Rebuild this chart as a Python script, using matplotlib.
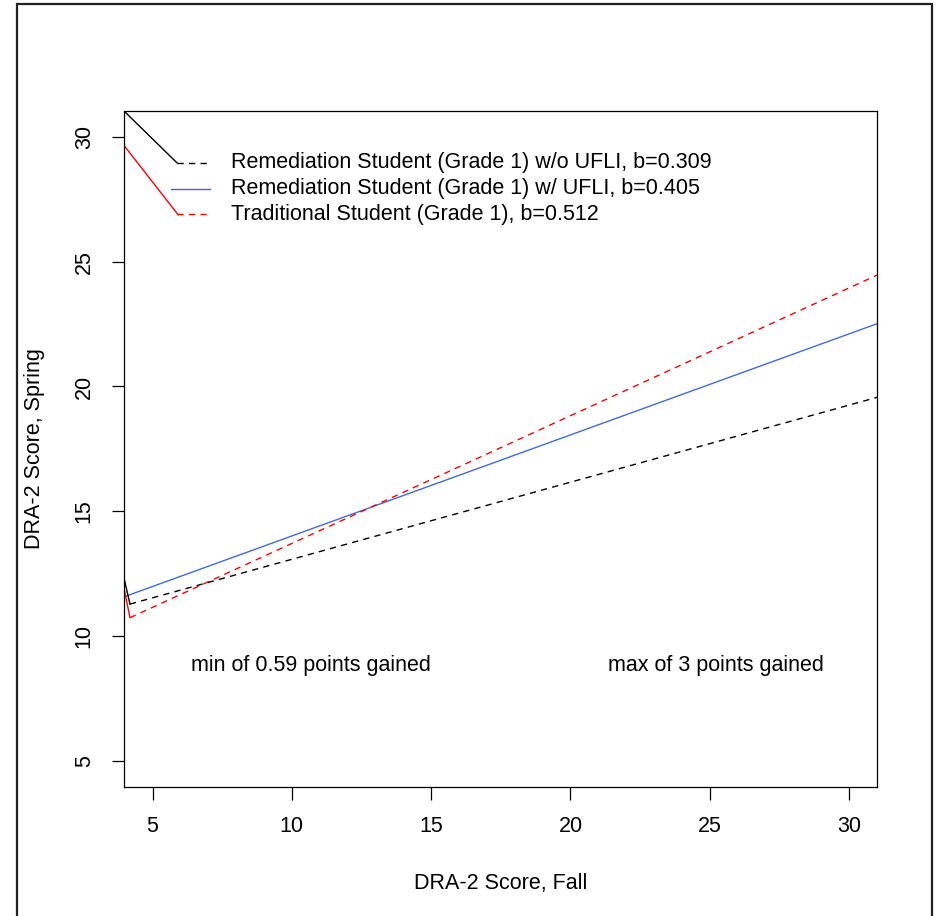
import matplotlib
matplotlib.use("Agg")
import matplotlib.pyplot as plt
import numpy as np
from matplotlib.patches import Rectangle

plt.rcParams['font.family'] = ['Liberation Sans', 'DejaVu Sans']

# Data
series_names = ["Remediation Student (Grade 1) w/o UFLI, b=0.309",
                "Remediation Student (Grade 1) w/ UFLI, b=0.405",
                "Traditional Student (Grade 1), b=0.512"]
slopes = [0.309, 0.405, 0.512]
intercepts = [9.985, 9.96, 8.59]
x_start = [4.19, 3.90, 4.19]
x_end = [31.5, 31.5, 31.5]
colors = ["black", "royalblue", "red"]
styles = ["dashed", "solid", "dashed"]

# stray connector segments (as drawn in original)
conn_black_top_x = [3.976, 5.88]
conn_black_top_y = [31.04, 28.96]
conn_red_top_x = [3.976, 5.92]
conn_red_top_y = [29.66, 26.88]
conn_black_bot_x = [3.976, 4.19]
conn_black_bot_y = [12.32, 11.28]
conn_red_bot_x = [3.976, 4.19]
conn_red_bot_y = [11.92, 10.74]

legend_x0 = 5.88
legend_x1 = 7.06
legend_y = [28.96, 27.93, 26.90]
legend_text_x = 7.8

annot_text = ["min of 0.59 points gained", "max of 3 points gained"]
annot_x = [10.69, 25.22]
annot_y = [8.8, 8.8]

xticks = [5, 10, 15, 20, 25, 30]
yticks = [5, 10, 15, 20, 25, 30]

FS = 15.5
LW = 1.0

fig = plt.figure(figsize=(9.39, 9.16), dpi=100)
ax = fig.add_axes([124/939, 1-787/916, (877-124)/939, (787-111)/916])
ax.set_xlim(3.976, 31.0)
ax.set_ylim(3.95, 31.04)

dash = (0, (4.5, 3.8))
for s, b, x0, x1, c, ls in zip(slopes, intercepts, x_start, x_end, colors, styles):
    xs = np.array([x0, x1])
    ax.plot(xs, b + s*xs, color=c, lw=LW, linestyle=dash if ls == "dashed" else "-")

ax.plot(conn_black_top_x, conn_black_top_y, color="black", lw=LW)
ax.plot(conn_red_top_x, conn_red_top_y, color="red", lw=LW)
ax.plot(conn_black_bot_x, conn_black_bot_y, color="black", lw=LW)
ax.plot(conn_red_bot_x, conn_red_bot_y, color="red", lw=LW)

for i, (name, c, ls, ly) in enumerate(zip(series_names, colors, styles, legend_y)):
    lx0 = legend_x0 if ls == "dashed" else legend_x0 - 0.2
    ax.plot([lx0, legend_x1], [ly, ly], color=c, lw=LW,
            linestyle=dash if ls == "dashed" else "-")
    ax.text(legend_text_x, ly, name, fontsize=FS, va="center", ha="left")

for t, x, y in zip(annot_text, annot_x, annot_y):
    ax.text(x, y, t, fontsize=FS, ha="center", va="center")

ax.set_xticks(xticks)
ax.set_yticks(yticks)
ax.tick_params(length=9, width=0.9, labelsize=FS, pad=12)
for lab in ax.get_yticklabels():
    lab.set_rotation(90)
    lab.set_va("center")
for sp in ax.spines.values():
    sp.set_linewidth(0.9)
ax.set_xlabel("DRA-2 Score, Fall", fontsize=FS, labelpad=26)
ax.set_ylabel("DRA-2 Score, Spring", fontsize=FS, labelpad=21)

fig.patches.append(Rectangle((17/939, -0.05), (932-17)/939, 1.05 - 4/916,
                             transform=fig.transFigure, fill=False,
                             edgecolor="#222222", lw=1.6))
fig.savefig("out.png", dpi=100)
